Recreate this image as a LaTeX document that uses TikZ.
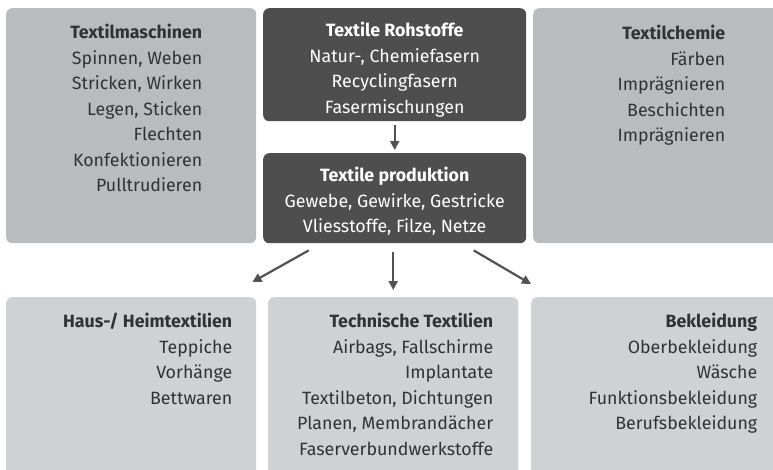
\documentclass[tikz,border=0pt]{standalone}
\usepackage{fontspec}
\setmainfont{Fira Sans}
\usepackage{xcolor}
\usepackage{tikz}
\usetikzlibrary{arrows.meta,positioning,calc}
\definecolor{txedge}{RGB}{82,82,82}
\definecolor{txdark}{RGB}{78,78,78}
\definecolor{txside}{RGB}{185,188,191}
\definecolor{txlow}{RGB}{207,210,213}
\definecolor{txink}{RGB}{50,50,50}
\tikzset{
  txbox/.style={
    draw=none, rounded corners=6pt, inner sep=0pt, anchor=north west
  },
  side/.style={txbox, fill=txside},
  low/.style={txbox, fill=txlow},
  core/.style={txbox, fill=txdark},
  txt/.style={
    inner sep=0pt, align=right, text=txink, anchor=north east,
    font=\fontsize{17.8}{25.5}\selectfont
  },
  ctxt/.style={txt, align=center, text=white, anchor=north},
  arr/.style={-{Triangle[length=9pt,width=9pt]}, draw=txedge, line width=2.2pt},
  every picture/.append style={line join=round}
}
\begin{document}
\begin{tikzpicture}[x=1pt,y=-1pt]
  \useasboundingbox (0,0) rectangle (773,469);
  % boxes
  \node[side, minimum width=250pt, minimum height=235pt] (maschinen) at (6,8) {};
  \node[core, minimum width=263pt, minimum height=113pt] (rohstoffe) at (263,8) {};
  \node[core, minimum width=263pt, minimum height=90pt] (produktion) at (263,153) {};
  \node[side, minimum width=250pt, minimum height=235pt] (chemie) at (533,8) {};
  \node[low, minimum width=250pt, minimum height=182pt] (haus) at (6,297) {};
  \node[low, minimum width=250pt, minimum height=182pt] (technik) at (268,297) {};
  \node[low, minimum width=250pt, minimum height=182pt] (bekleidung) at (531,297) {};
  % texts
  \node[txt] (maschinentxt) at ([xshift=-54pt,yshift=-16pt]maschinen.north east)
    {\textbf{Textilmaschinen}\\Spinnen, Weben\\Stricken, Wirken\\Legen, Sticken\\
     Flechten\\Konfektionieren\\Pulltrudieren};
  \node[ctxt] (rohstoffetxt) at ([yshift=-14pt]rohstoffe.north)
    {\textbf{Textile Rohstoffe}\\Natur-, Chemiefasern\\Recyclingfasern\\Fasermischungen};
  \node[ctxt] (produktiontxt) at ([yshift=-14pt]produktion.north)
    {\textbf{Textile produktion}\\Gewebe, Gewirke, Gestricke\\Vliesstoffe, Filze, Netze};
  \node[txt] (chemietxt) at ([xshift=-58pt,yshift=-17pt]chemie.north east)
    {\textbf{Textilchemie}\\Färben\\Imprägnieren\\Beschichten\\Imprägnieren};
  \node[txt] (haustxt) at ([xshift=-24pt,yshift=-16pt]haus.north east)
    {\textbf{Haus-/ Heimtextilien}\\Teppiche\\Vorhänge\\Bettwaren};
  \node[txt] (techniktxt) at ([xshift=-25pt,yshift=-16pt]technik.north east)
    {\textbf{Technische Textilien}\\Airbags, Fallschirme\\Implantate\\
     Textilbeton, Dichtungen\\Planen, Membrandächer\\Faserverbundwerkstoffe};
  \node[txt] (bekleidungtxt) at ([xshift=-24pt,yshift=-16pt]bekleidung.north east)
    {\textbf{Bekleidung}\\Oberbekleidung\\Wäsche\\Funktionsbekleidung\\Berufsbekleidung};
  % arrows
  \draw[arr] ([yshift=-4pt]rohstoffe.south) -- ([yshift=3pt]produktion.north);
  \draw[arr] ([xshift=-86pt,yshift=-7pt]produktion.south) -- ([xshift=-4pt,yshift=15pt]haus.north east);
  \draw[arr] ([xshift=-1.5pt,yshift=-9pt]produktion.south) -- ([yshift=7pt]technik.north);
  \draw[arr] ([xshift=79pt,yshift=-7pt]produktion.south) -- ([yshift=13pt]bekleidung.north west);
\end{tikzpicture}
\end{document}
